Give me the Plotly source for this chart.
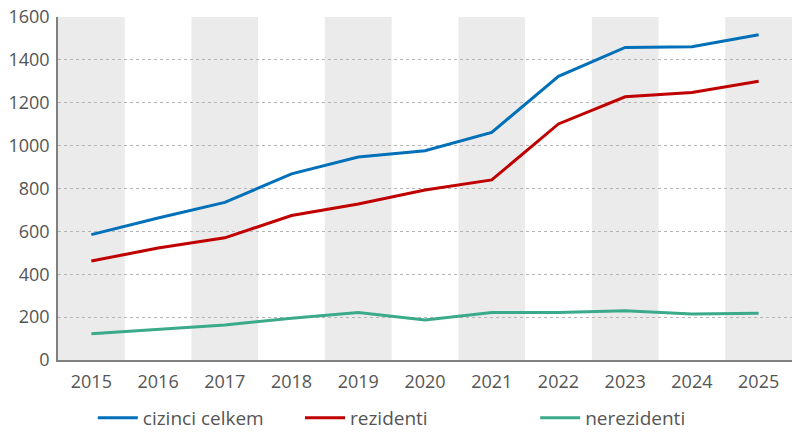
import plotly.graph_objects as go

YEARS = ["2015", "2016", "2017", "2018", "2019", "2020",
         "2021", "2022", "2023", "2024", "2025"]
CIZINCI_CELKEM = [585, 662, 735, 868, 947, 976, 1062, 1323, 1458, 1461, 1517]
REZIDENTI = [462, 522, 570, 674, 728, 793, 840, 1101, 1228, 1248, 1300]
NEREZIDENTI = [123, 142, 163, 195, 221, 187, 222, 222, 230, 214, 218]

Y_TICKS = [0, 200, 400, 600, 800, 1000, 1200, 1400, 1600]

SERIES = [
    ("cizinci celkem", CIZINCI_CELKEM, "#0070b8", "legend", 0.106),
    ("rezidenti", REZIDENTI, "#c00000", "legend2", 0.365),
    ("nerezidenti", NEREZIDENTI, "#3aaa8a", "legend3", 0.659),
]

BAND = "#ebebeb"
GRID = "#b4b4b4"
AXIS = "#808080"
TEXT = "#555555"
FONT = "Open Sans"

fig = go.Figure()
for name, vals, color, leg, _ in SERIES:
    fig.add_trace(go.Scatter(
        x=YEARS, y=vals, name=name, mode="lines",
        line=dict(color=color, width=3), legend=leg,
    ))

# grey bands behind every other year
shapes = []
for i in range(0, len(YEARS), 2):
    shapes.append(dict(
        type="rect", xref="x", yref="paper",
        x0=i - 0.5, x1=i + 0.5, y0=0, y1=1,
        fillcolor=BAND, line_width=0, layer="below",
    ))

# one legend per series so the entries can sit where the original has them
legends = {}
for _, _, _, leg, lx in SERIES:
    legends[leg] = dict(
        orientation="h", xref="container", yref="container",
        x=lx, xanchor="left", y=0.051, yanchor="middle",
        font=dict(size=19, color=TEXT), itemwidth=40,
        bgcolor="rgba(0,0,0,0)",
    )

# margins allow for the 8px body margin of the html page
fig.update_layout(
    width=800, height=432,
    margin=dict(l=50, r=16, t=9, b=80),
    paper_bgcolor="white", plot_bgcolor="white",
    font=dict(family=FONT, size=18, color=TEXT),
    shapes=shapes,
    showlegend=True,
    **legends,
    xaxis=dict(
        type="category", range=[-0.5, len(YEARS) - 0.5],
        showline=True, linecolor=AXIS, linewidth=1.5,
        showgrid=False, ticks="", tickfont=dict(size=18, color=TEXT),
        ticklabelstandoff=5, automargin=False,
    ),
    yaxis=dict(
        range=[0, 1600], tickvals=Y_TICKS,
        showline=True, linecolor=AXIS, linewidth=1.5,
        showgrid=True, gridcolor=GRID, griddash="dot", gridwidth=1,
        zeroline=False, ticks="", tickfont=dict(size=18, color=TEXT),
        ticklabelstandoff=3, ticklabeloverflow="allow", automargin=False,
    ),
)

fig.write_html("out.html")
